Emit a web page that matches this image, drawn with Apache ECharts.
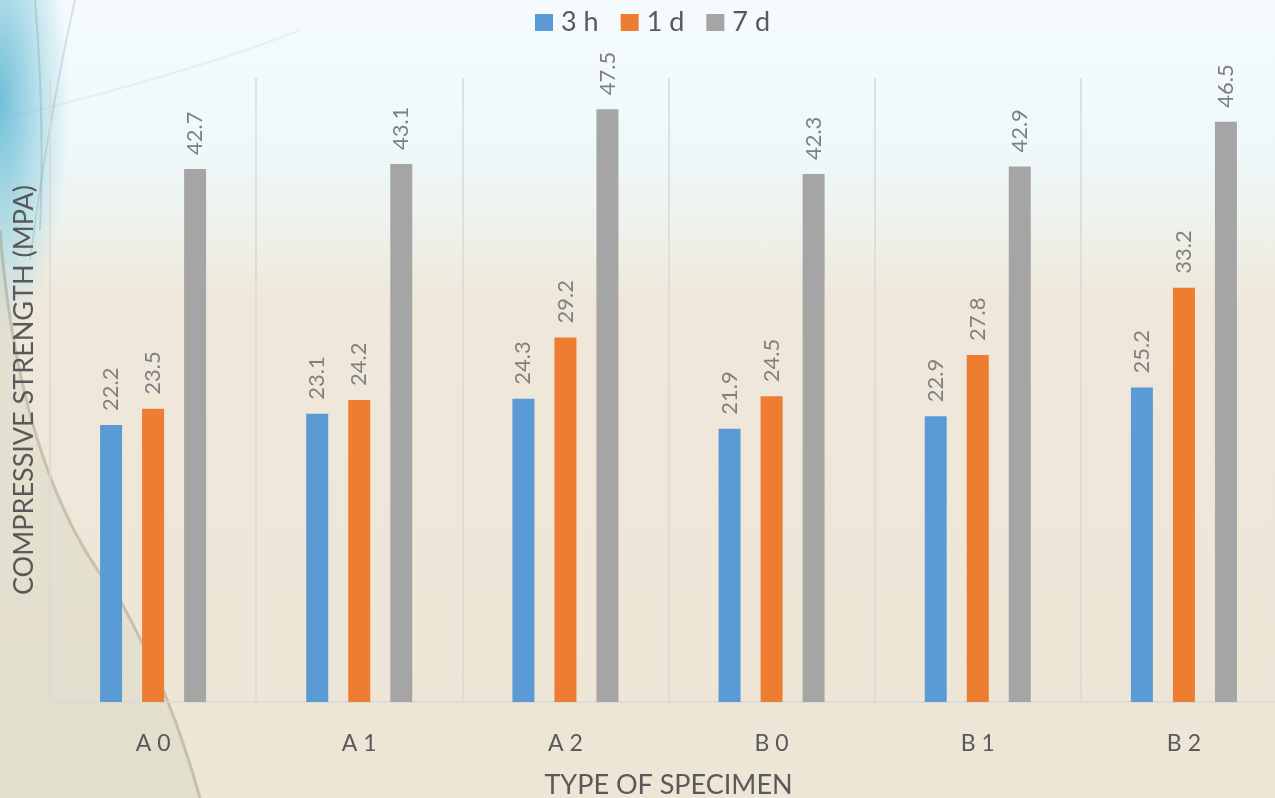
<!DOCTYPE html>
<html>
<head>
<meta charset="utf-8">
<script src="https://cdn.jsdelivr.net/npm/echarts@6/dist/echarts.min.js"></script>
<style>
html,body{margin:0;padding:0;}
#bg{position:absolute;left:0;top:0;width:1275px;height:798px;
background:
 radial-gradient(ellipse 70px 240px at 0px 100px, rgba(100,185,212,0.9), rgba(150,210,225,0.4) 70%, rgba(255,255,255,0) 100%),
 linear-gradient(to bottom, #f5fbfd 0px, #eef8fa 150px, #eef2ec 225px, #efe8da 300px, #ede5d6 798px);}
#deco{position:absolute;left:0;top:0;}
#main{position:absolute;left:0;top:0;width:1275px;height:798px;}
</style>
</head>
<body>
<div id="bg"></div>
<svg id="deco" width="1275" height="798">
  <path d="M0,230 Q20,480 120,600 Q170,690 200,798 L0,798 Z" fill="rgba(205,210,185,0.3)"/>
  <path d="M0,230 Q20,480 120,600 Q170,690 200,798" fill="none" stroke="rgba(150,140,120,0.4)" stroke-width="3"/>
  <path d="M35,0 Q45,120 40,230" fill="none" stroke="rgba(120,150,160,0.3)" stroke-width="2"/>
  <path d="M75,0 Q50,110 30,260" fill="none" stroke="rgba(120,150,160,0.25)" stroke-width="2"/>
  <path d="M0,120 Q200,70 300,30" fill="none" stroke="rgba(140,170,180,0.12)" stroke-width="2"/>
</svg>
<div id="main"></div>
<script>
const categories = ['A0','A1','A2','B0','B1','B2'];
const seriesNames = ['3 h','1 d','7 d'];
const values3h = [22.2, 23.1, 24.3, 21.9, 22.9, 25.2];
const values1d = [23.5, 24.2, 29.2, 24.5, 27.8, 33.2];
const values7d = [42.7, 43.1, 47.5, 42.3, 42.9, 46.5];
const colors = ['#5b9bd5','#ed7d31','#a5a5a5'];

const chart = echarts.init(document.getElementById('main'), null, {renderer:'canvas'});
const font = 'Lato, "Open Sans", sans-serif';
const labelCfg = {
  show: true, position: 'top', rotate: 90, align: 'left', verticalAlign: 'middle',
  distance: 14, color: '#7f7f7f', fontSize: 22, fontFamily: font,
  formatter: p => p.value.toFixed(1)
};
function mk(name, data, color){
  return {name, type:'bar', data, barWidth:22, barGap:'91%',
    itemStyle:{color}, label: labelCfg};
}
chart.setOption({
  backgroundColor: 'transparent',
  textStyle:{fontFamily: font},
  legend:{
    top: 4, left: 530, itemWidth: 18, itemHeight: 17, itemGap: 22,
    icon: 'rect',
    textStyle:{color:'#595959', fontSize:27, fontFamily:font, padding:[0,0,0,3]},
    data: seriesNames
  },
  grid:{left:50, top:78, bottom:96, width:1237, outerBoundsMode:'none', containLabel:false},
  xAxis:{
    type:'category', data: categories,
    axisTick:{show:false},
    axisLine:{lineStyle:{color:'#d9d9d9', width:1.5}},
    splitLine:{show:true, lineStyle:{color:'#d9d9d9', width:1.5}},
    axisLabel:{color:'#595959', fontSize:23, margin:30, fontFamily:font,
      formatter: v => v.split('').join(' ')},
    name:'TYPE OF SPECIMEN', nameLocation:'middle', nameGap:70,
    nameTextStyle:{color:'#595959', fontSize:27, fontFamily:font}
  },
  yAxis:{
    type:'value', min:0, max:50,
    axisLabel:{show:false}, axisLine:{show:false}, axisTick:{show:false},
    splitLine:{show:false},
    name:'COMPRESSIVE STRENGTH (MPA)', nameLocation:'middle', nameGap:12,
    nameTextStyle:{color:'#595959', fontSize:27, fontFamily:font}
  },
  series:[
    mk(seriesNames[0], values3h, colors[0]),
    mk(seriesNames[1], values1d, colors[1]),
    mk(seriesNames[2], values7d, colors[2])
  ]
});
</script>
</body>
</html>
